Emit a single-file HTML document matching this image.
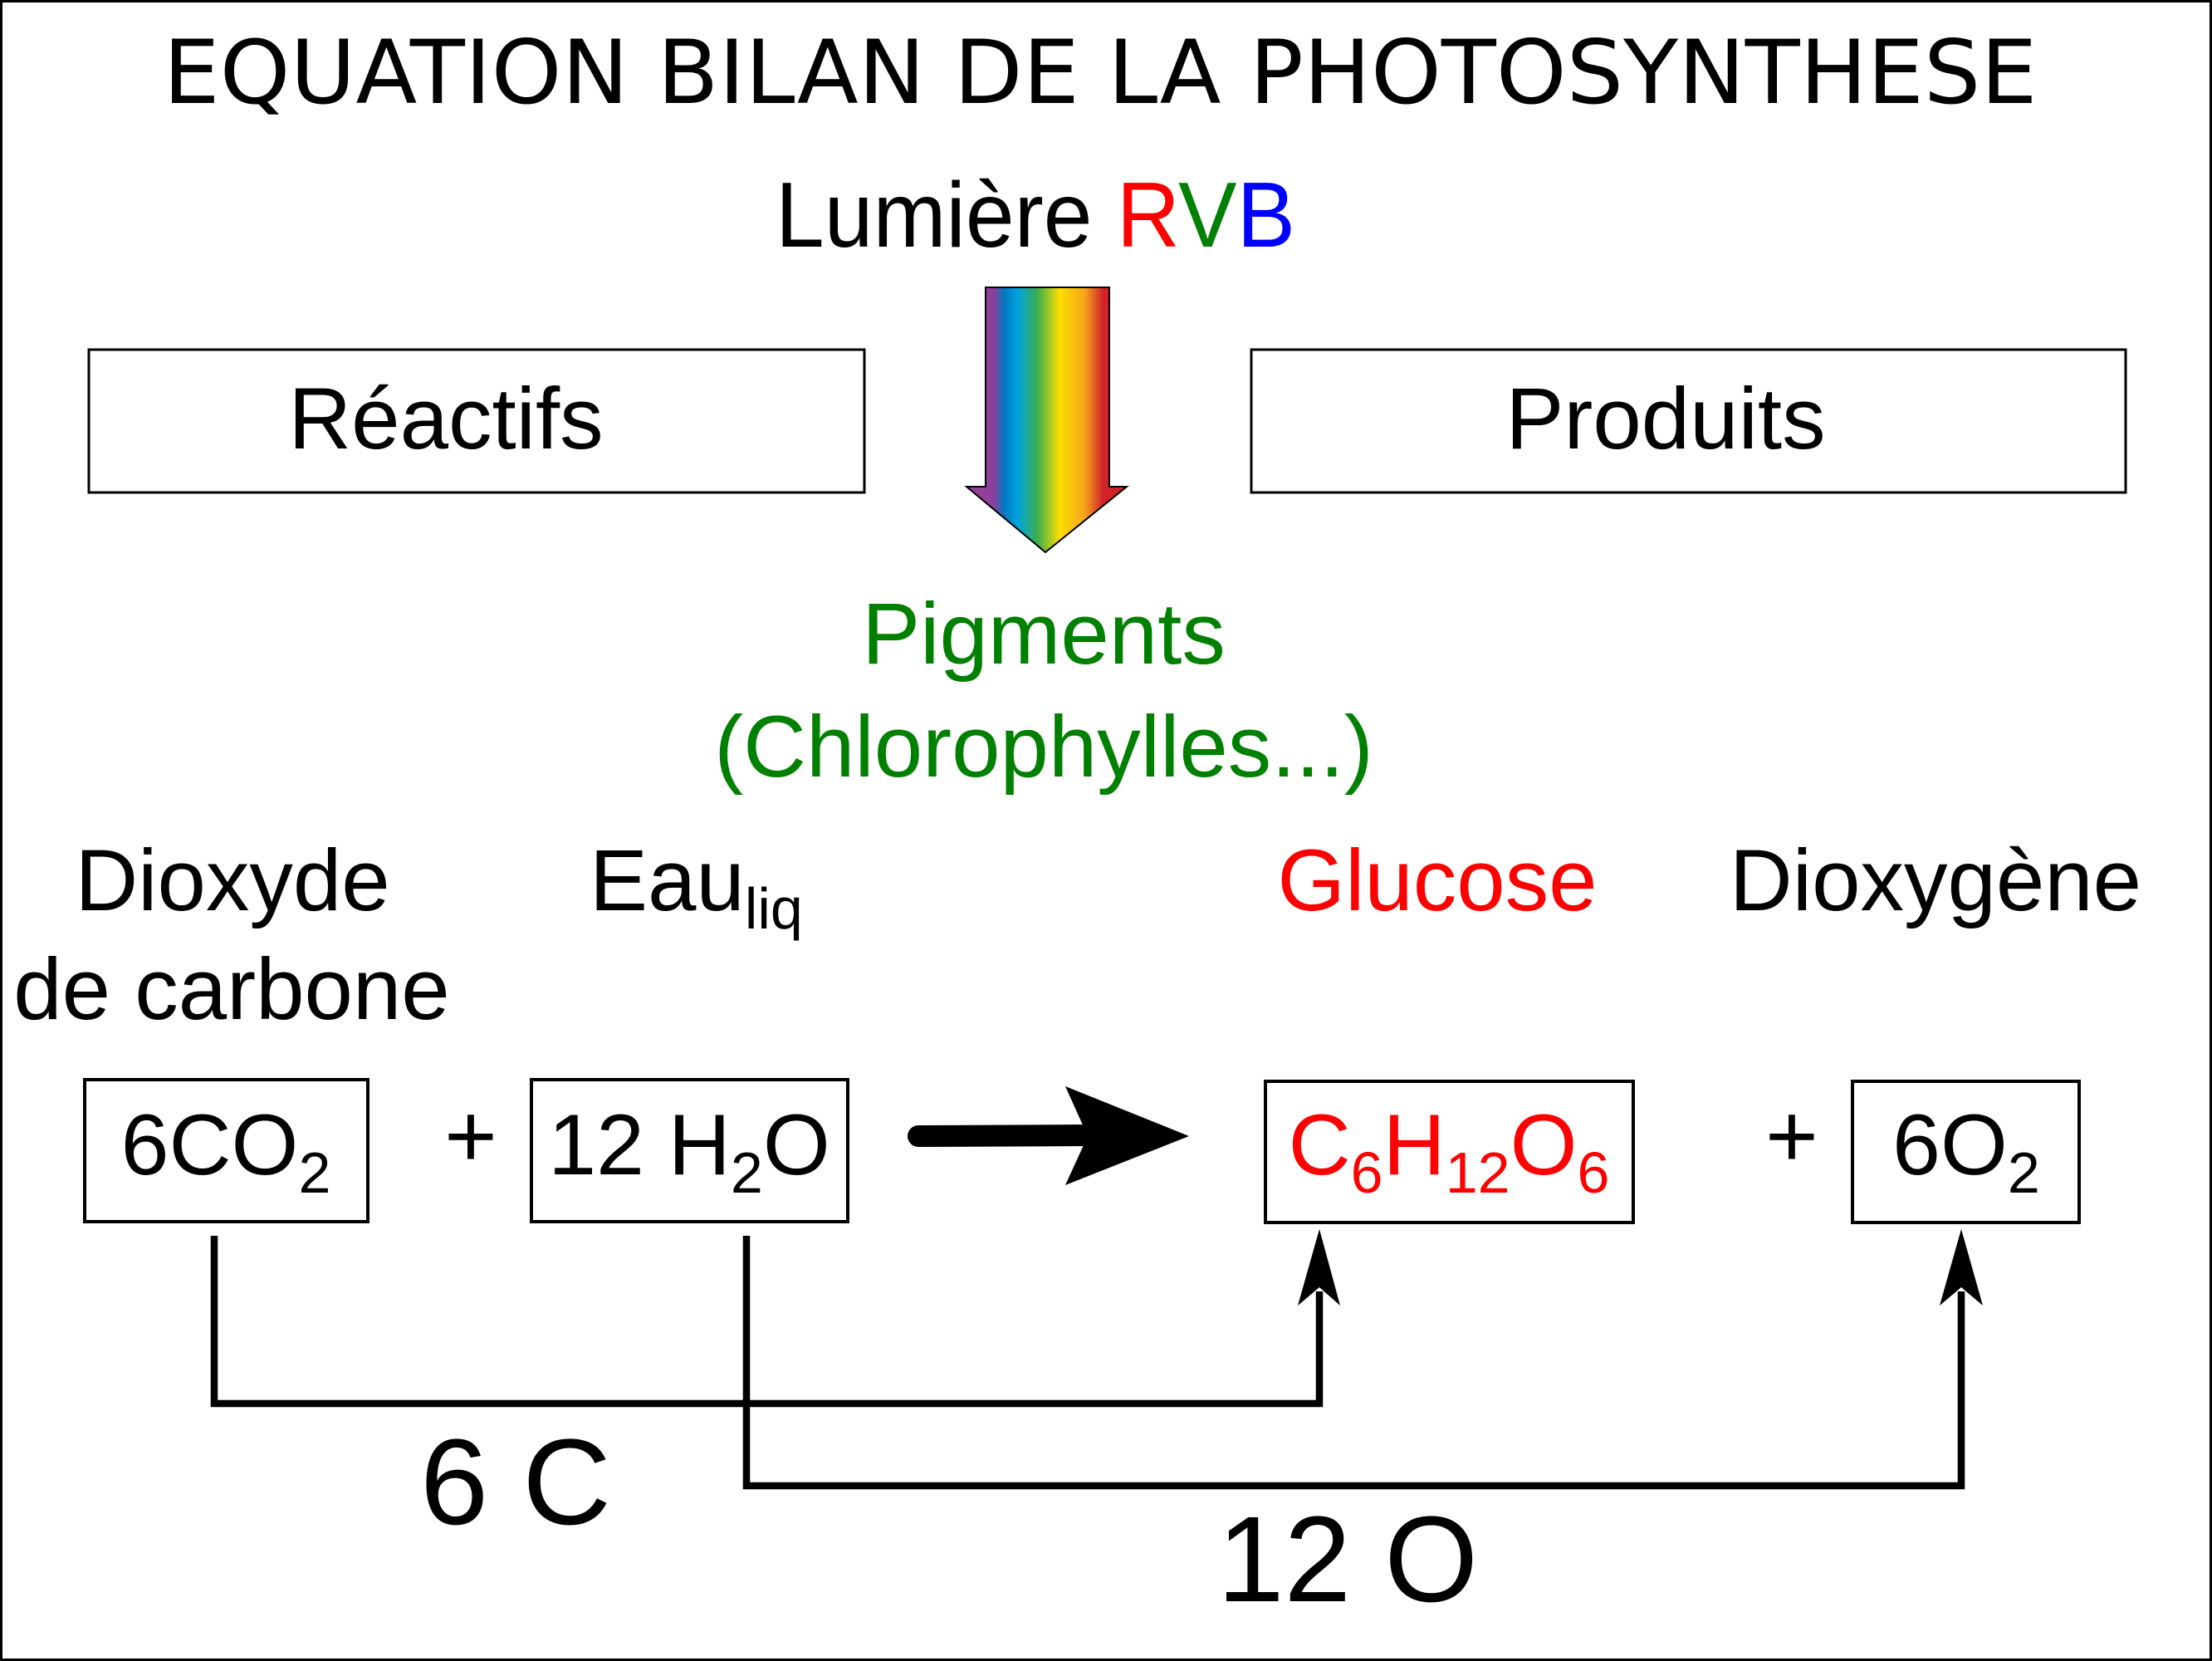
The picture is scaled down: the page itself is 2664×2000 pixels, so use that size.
<!DOCTYPE html>
<html><head><meta charset="utf-8"><style>html,body{margin:0;padding:0;background:#fff}svg{display:block}</style></head><body>
<svg width="2664" height="2000" viewBox="0 0 2664 2000" xmlns="http://www.w3.org/2000/svg">
<defs>
<linearGradient id="rb" x1="1187" y1="0" x2="1336" y2="0" gradientUnits="userSpaceOnUse">
<stop offset="0" stop-color="#93409a"/><stop offset="0.07" stop-color="#8a3f9c"/>
<stop offset="0.15" stop-color="#0079c1"/><stop offset="0.26" stop-color="#00a4e0"/>
<stop offset="0.42" stop-color="#3cae4d"/><stop offset="0.6" stop-color="#ffde00"/>
<stop offset="0.8" stop-color="#f7a51c"/><stop offset="0.95" stop-color="#d12229"/><stop offset="1" stop-color="#d12229"/>
</linearGradient>
</defs>
<rect x="1.5" y="1.5" width="2661" height="1997" fill="#fff" stroke="#000" stroke-width="3"/>
<g font-family="Liberation Sans, Arial, sans-serif">
<text x="1325" y="124" font-family="DejaVu Sans, sans-serif" font-size="106" text-anchor="middle" textLength="2257" lengthAdjust="spacingAndGlyphs">EQUATION BILAN DE LA PHOTOSYNTHESE</text>
<text x="934" y="297" font-size="111" textLength="626" lengthAdjust="spacingAndGlyphs">Lumière <tspan fill="#f00">R</tspan><tspan fill="#008000">V</tspan><tspan fill="#00f">B</tspan></text>
<rect x="107" y="421" width="934" height="172" fill="none" stroke="#000" stroke-width="3"/>
<rect x="1507" y="421" width="1053" height="172" fill="none" stroke="#000" stroke-width="3"/>
<text x="537" y="540" font-size="105" text-anchor="middle">Réactifs</text>
<text x="2006" y="540" font-size="105" text-anchor="middle">Produits</text>
<polygon points="1187,346 1336,346 1336,586 1357,586 1259,665 1164,586 1187,586" fill="url(#rb)" stroke="#000" stroke-width="2"/>
<text x="1257" y="799" font-size="105" fill="#008000" text-anchor="middle">Pigments</text>
<text x="1257" y="935" font-size="105" fill="#008000" text-anchor="middle">(Chlorophylles...)</text>
<text x="280" y="1096" font-size="105" text-anchor="middle">Dioxyde</text>
<text x="279" y="1227" font-size="105" text-anchor="middle">de carbone</text>
<text x="710" y="1096" font-size="105">Eau<tspan font-size="70" dy="22">liq</tspan></text>
<text x="1731" y="1096" font-size="105" fill="#f00" text-anchor="middle">Glucose</text>
<text x="2331" y="1096" font-size="105" text-anchor="middle">Dioxygène</text>
<rect x="102" y="1300" width="341" height="171" fill="none" stroke="#000" stroke-width="4"/>
<rect x="640" y="1300" width="381" height="171" fill="none" stroke="#000" stroke-width="4"/>
<rect x="1524" y="1302" width="443" height="170" fill="none" stroke="#000" stroke-width="4"/>
<rect x="2231" y="1302" width="273" height="170" fill="none" stroke="#000" stroke-width="4"/>
<text x="272" y="1414" font-size="104" text-anchor="middle">6CO<tspan font-size="70" dy="22">2</tspan></text>
<text x="830" y="1414" font-size="104" text-anchor="middle">12 H<tspan font-size="70" dy="22">2</tspan><tspan dy="-22">O</tspan></text>
<text x="1745" y="1414" font-size="104" fill="#f00" text-anchor="middle">C<tspan font-size="70" dy="22">6</tspan><tspan dy="-22">H</tspan><tspan font-size="70" dy="22">12</tspan><tspan dy="-22">O</tspan><tspan font-size="70" dy="22">6</tspan></text>
<text x="2368" y="1414" font-size="104" text-anchor="middle">6O<tspan font-size="70" dy="22">2</tspan></text>
<text x="567" y="1405" font-size="109" text-anchor="middle">+</text>
<text x="2158" y="1405" font-size="109" text-anchor="middle">+</text>
<line x1="1106" y1="1368" x2="1310" y2="1367" stroke="#000" stroke-width="26" stroke-linecap="round"/>
<polygon points="1283,1308 1432,1368 1283,1427 1310,1368" fill="#000"/>
<polyline points="258,1488 258,1690 1589,1690 1589,1555" fill="none" stroke="#000" stroke-width="8.5"/>
<polyline points="899,1488 899,1789 2362,1789 2362,1555" fill="none" stroke="#000" stroke-width="8.5"/>
<polygon points="1589,1480 1614,1572 1589,1550 1563,1572" fill="#000"/>
<polygon points="2362,1480 2388,1572 2362,1550 2336,1572" fill="#000"/>
<text x="506" y="1835" font-size="147" textLength="230" lengthAdjust="spacingAndGlyphs">6 C</text>
<text x="1466" y="1928" font-size="147" textLength="314" lengthAdjust="spacingAndGlyphs">12 O</text>
</g>
</svg>
</body></html>
